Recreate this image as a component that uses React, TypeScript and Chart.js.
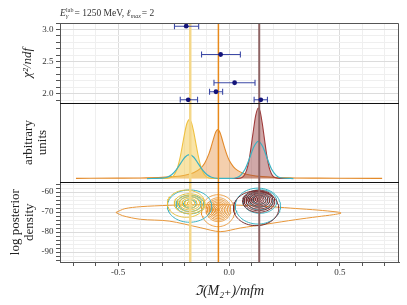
import React, { useEffect, useRef } from 'react';
import { Chart, registerables } from 'chart.js';

Chart.register(...registerables);

const FONT = '"Liberation Serif", "DejaVu Serif", serif';

// ---------- axis ticks ----------
const xTickValues = [-0.7, -0.6, -0.5, -0.4, -0.3, -0.2, -0.1, 0, 0.1, 0.2, 0.3, 0.4, 0.5, 0.6, 0.7];
const xLabelValues = [-0.5, 0, 0.5];
const chiTickValues = [1.9, 2.0, 2.1, 2.2, 2.3, 2.4, 2.5, 2.6, 2.7, 2.8, 2.9, 3.0, 3.1];
const chiLabelValues = [2.0, 2.5, 3.0];
const logTickValues = [-94, -92, -90, -88, -86, -84, -82, -80, -78, -76, -74, -72, -70, -68, -66, -64, -62, -60, -58, -56];
const logLabelValues = [-90, -80, -70, -60];

// ---------- reference lines ----------
const vLineX = [-0.175, -0.048, 0.136];
const vLineColors = ['#f4d789', '#e8891a', '#8e6464'];
const vLineWidths = [2.5, 1.5, 2];

// ---------- top panel: chi2/ndf with x errors ----------
const fitCenterX = [-0.193, -0.038, 0.025, -0.059, -0.184, 0.143];
const fitChi2 = [3.05, 2.61, 2.17, 2.03, 1.905, 1.905];
const fitLo = [-0.246, -0.124, -0.068, -0.088, -0.220, 0.113];
const fitHi = [-0.137, 0.051, 0.117, -0.029, -0.142, 0.173];

// ---------- middle panel: densities ----------
const yellowX = [-0.31, -0.28, -0.26, -0.25, -0.24, -0.23, -0.22, -0.21, -0.20, -0.19, -0.179, -0.17, -0.16, -0.15, -0.14, -0.13, -0.12, -0.11, -0.10, -0.08, -0.05];
const yellowY = [0.000, 0.002, 0.016, 0.039, 0.086, 0.165, 0.285, 0.440, 0.600, 0.725, 0.777, 0.740, 0.625, 0.470, 0.315, 0.188, 0.100, 0.046, 0.019, 0.002, 0.000];

const orangeX = [-0.69, -0.5, -0.4, -0.3, -0.25, -0.2, -0.16, -0.13, -0.11, -0.09, -0.08, -0.07, -0.06, -0.051, -0.04, -0.03, -0.02, -0.01, 0.0, 0.02, 0.04, 0.07, 0.1, 0.15, 0.2, 0.3, 0.4, 0.5, 0.69];
const orangeY = [0.002, 0.005, 0.008, 0.016, 0.025, 0.043, 0.077, 0.131, 0.202, 0.331, 0.423, 0.526, 0.614, 0.645, 0.600, 0.505, 0.403, 0.315, 0.245, 0.155, 0.104, 0.064, 0.043, 0.025, 0.016, 0.008, 0.005, 0.003, 0.002];

const brownX = [0.01, 0.05, 0.06, 0.07, 0.08, 0.09, 0.10, 0.11, 0.12, 0.132, 0.14, 0.15, 0.16, 0.17, 0.18, 0.19, 0.20, 0.21, 0.23, 0.27];
const brownY = [0.000, 0.006, 0.017, 0.050, 0.117, 0.240, 0.430, 0.640, 0.830, 0.930, 0.885, 0.720, 0.510, 0.305, 0.155, 0.070, 0.026, 0.009, 0.001, 0.000];

const tealX = [-0.37, -0.30, -0.279, -0.259, -0.239, -0.219, -0.199, -0.179, -0.159, -0.139, -0.119, -0.099, -0.079, -0.05, 0.0, 0.012, 0.032, 0.052, 0.072, 0.092, 0.112, 0.132, 0.152, 0.172, 0.192, 0.212, 0.232, 0.29];
const tealY = [0.000, 0.005, 0.017, 0.049, 0.110, 0.197, 0.280, 0.314, 0.280, 0.197, 0.110, 0.049, 0.017, 0.003, 0.002, 0.002, 0.010, 0.042, 0.122, 0.264, 0.420, 0.490, 0.420, 0.264, 0.122, 0.042, 0.010, 0.000];

// ---------- bottom panel: posterior contours (ring centres / radii) ----------
const yellowRingCx = [-0.178, -0.178, -0.178, -0.178, -0.178, -0.179, -0.193];
const yellowRingCy = [-65.6, -65.6, -65.6, -65.6, -65.7, -65.8, -65.8];
const yellowRingRx = [0.011, 0.023, 0.034, 0.045, 0.056, 0.068, 0.085];
const yellowRingRy = [0.85, 1.65, 2.5, 3.3, 4.1, 5.0, 6.8];

const tealLeftCx = [-0.176, -0.176, -0.176, -0.178];
const tealLeftCy = [-65.9, -66.0, -66.2, -67.0];
const tealLeftRx = [0.028, 0.050, 0.063, 0.100];
const tealLeftRy = [2.1, 3.7, 4.7, 8.1];

const orangeRingCx = [-0.048, -0.048, -0.048, -0.048, -0.048, -0.048, -0.048, -0.048, -0.050];
const orangeRingCy = [-68.8, -68.8, -68.8, -68.8, -68.8, -68.8, -68.8, -68.8, -69.3];
const orangeRingRx = [0.007, 0.014, 0.021, 0.028, 0.035, 0.042, 0.049, 0.056, 0.075];
const orangeRingRy = [0.75, 1.5, 2.25, 3.0, 3.75, 4.5, 5.25, 6.0, 8.0];

const orangeOuterX = [-0.51, -0.47, -0.40, -0.27, -0.20, -0.10, 0.0, 0.10, 0.20, 0.30, 0.40, 0.49, 0.505, 0.47, 0.40, 0.30, 0.17, 0.05, -0.04, -0.13, -0.27, -0.40, -0.48, -0.51];
const orangeOuterY = [-70.2, -68.3, -67.3, -66.6, -66.4, -66.3, -66.4, -66.8, -67.4, -68.2, -69.0, -70.0, -70.5, -71.3, -72.3, -73.8, -76.0, -78.0, -79.8, -77.8, -74.5, -73.6, -71.8, -70.2];

const brownRingCx = [0.134, 0.134, 0.134, 0.134, 0.134, 0.134, 0.134, 0.134, 0.134, 0.122];
const brownRingCy = [-63.6, -63.6, -63.7, -63.8, -63.9, -64.0, -64.2, -64.4, -64.6, -68.1];
const brownRingRx = [0.008, 0.016, 0.024, 0.033, 0.041, 0.049, 0.057, 0.065, 0.072, 0.102];
const brownRingRy = [0.6, 1.2, 1.85, 2.45, 3.05, 3.65, 4.3, 4.9, 5.5, 8.7];

const tealRightCx = [0.137, 0.137, 0.138, 0.139, 0.130];
const tealRightCy = [-63.8, -64.0, -64.3, -64.7, -67.0];
const tealRightRx = [0.030, 0.045, 0.060, 0.076, 0.102];
const tealRightRy = [2.2, 3.4, 4.6, 5.9, 9.0];

// ---------- helpers ----------
const GAP = { x: NaN, y: NaN };
const isIn = (arr: number[], v: any) => typeof v === 'number' && arr.some((a) => Math.abs(a - v) < 1e-6);
const zip = (xs: number[], ys: number[]) => xs.map((x, i) => ({ x, y: ys[i] }));

function rings(cx: number[], cy: number[], rx: number[], ry: number[]) {
  const pts: any[] = [];
  const n = 72;
  for (let i = 0; i < rx.length; i++) {
    for (let k = 0; k <= n; k++) {
      const t = (k / n) * Math.PI * 2;
      pts.push({ x: cx[i] + rx[i] * Math.cos(t), y: cy[i] + ry[i] * Math.sin(t) });
    }
    pts.push(GAP);
  }
  return pts;
}

function errorBars() {
  const pts: any[] = [];
  fitCenterX.forEach((_, i) => {
    pts.push({ x: fitLo[i], y: fitChi2[i] }, { x: fitHi[i], y: fitChi2[i] }, GAP);
  });
  return pts;
}

const vLinePlugin = {
  id: 'vlines',
  beforeDatasetDraw(chart: any, args: any) {
    if (args.index !== 1) return;
    const { ctx, chartArea } = chart;
    const xs = chart.scales.x;
    ctx.save();
    vLineX.forEach((v, i) => {
      const px = xs.getPixelForValue(v);
      ctx.strokeStyle = vLineColors[i];
      ctx.lineWidth = vLineWidths[i];
      ctx.beginPath();
      ctx.moveTo(px, chartArea.top);
      ctx.lineTo(px, chartArea.bottom);
      ctx.stroke();
    });
    ctx.restore();
  },
};

const framePlugin = {
  id: 'frame',
  afterDatasetsDraw(chart: any) {
    const { ctx, chartArea } = chart;
    ctx.save();
    ctx.strokeStyle = '#555';
    ctx.lineWidth = 1;
    ctx.beginPath();
    ctx.moveTo(chartArea.left, chartArea.top + 0.5);
    ctx.lineTo(chartArea.right - 0.5, chartArea.top + 0.5);
    ctx.lineTo(chartArea.right - 0.5, chartArea.bottom);
    ctx.stroke();
    ctx.strokeStyle = '#111';
    ctx.lineWidth = 1.2;
    ['yMid', 'yBot'].forEach((id) => {
      const y = Math.round(chart.scales[id].top) + 0.5;
      ctx.beginPath();
      ctx.moveTo(chartArea.left, y);
      ctx.lineTo(chartArea.right, y);
      ctx.stroke();
    });
    ctx.restore();
  },
};

const headerPlugin = {
  id: 'header',
  afterDraw(chart: any) {
    const { ctx, chartArea } = chart;
    let x = chartArea.left;
    const y = 16;
    ctx.save();
    ctx.fillStyle = '#333';
    ctx.textBaseline = 'alphabetic';
    ctx.textAlign = 'left';
    ctx.font = `italic 9.5px ${FONT}`;
    ctx.fillText('E', x, y);
    x += ctx.measureText('E').width + 0.3;
    ctx.font = `6px ${FONT}`;
    ctx.fillText('lab', x, y - 4.5);
    const wl = ctx.measureText('lab').width;
    ctx.font = `italic 6px ${FONT}`;
    ctx.fillText('γ', x, y + 2);
    x += wl + 1;
    ctx.font = `9.5px ${FONT}`;
    const s1 = '= 1250 MeV, ';
    ctx.fillText(s1, x, y);
    x += ctx.measureText(s1).width;
    ctx.font = `italic 9.5px ${FONT}`;
    ctx.fillText('ℓ', x, y);
    x += ctx.measureText('ℓ').width + 0.3;
    ctx.font = `italic 6px ${FONT}`;
    ctx.fillText('max', x, y + 2);
    x += ctx.measureText('max').width + 1;
    ctx.font = `9.5px ${FONT}`;
    ctx.fillText('= 2', x, y);
    ctx.restore();
  },
};

const tickFont = { family: FONT, size: 9 };
const titleFont = { family: FONT, size: 13, lineHeight: 1.12 };

export default function App() {
  const ref = useRef<HTMLCanvasElement>(null);

  useEffect(() => {
    Chart.defaults.font.family = FONT;
    const lineDs = (data: any[], color: string, axis: string, width = 1, extra: any = {}) => ({
      data,
      yAxisID: axis,
      showLine: true,
      borderColor: color,
      borderWidth: width,
      pointRadius: 0,
      fill: false,
      ...extra,
    });

    const datasets: any[] = [
      {
        data: zip(fitCenterX, fitChi2),
        yAxisID: 'yTop',
        pointRadius: 2.4,
        pointBackgroundColor: '#14147a',
        pointBorderColor: '#14147a',
        pointBorderWidth: 0,
        showLine: false,
      },
      lineDs(errorBars(), '#3d4aa6', 'yTop', 1.1, {
        pointStyle: 'line',
        pointRotation: 90,
        pointRadius: 3,
        pointBorderColor: '#3d4aa6',
        pointBorderWidth: 1.1,
      }),
      lineDs(zip(tealX, tealY), '#3bb2c2', 'yMid', 1.2, { cubicInterpolationMode: 'monotone' }),
      lineDs(zip(brownX, brownY), '#a03c3c', 'yMid', 1.1, {
        cubicInterpolationMode: 'monotone',
        fill: 'origin',
        backgroundColor: 'rgba(150,62,62,0.45)',
      }),
      lineDs(zip(yellowX, yellowY), '#efc142', 'yMid', 1.1, {
        cubicInterpolationMode: 'monotone',
        fill: 'origin',
        backgroundColor: 'rgba(244,202,80,0.5)',
      }),
      lineDs(zip(orangeX, orangeY), '#e38a2a', 'yMid', 1.1, {
        cubicInterpolationMode: 'monotone',
        fill: 'origin',
        backgroundColor: 'rgba(228,140,60,0.42)',
      }),
      lineDs(rings(brownRingCx, brownRingCy, brownRingRx, brownRingRy), '#7a2e30', 'yBot', 1),
      lineDs(rings(tealRightCx, tealRightCy, tealRightRx, tealRightRy), '#3bb2c2', 'yBot', 1),
      lineDs(rings(yellowRingCx, yellowRingCy, yellowRingRx, yellowRingRy), '#e6bf3e', 'yBot', 1),
      lineDs(rings(tealLeftCx, tealLeftCy, tealLeftRx, tealLeftRy), '#3bb2c2', 'yBot', 1),
      lineDs(rings(orangeRingCx, orangeRingCy, orangeRingRx, orangeRingRy), '#e8973a', 'yBot', 0.9),
      lineDs(zip(orangeOuterX, orangeOuterY), '#e8973a', 'yBot', 1, { tension: 0.3 }),
    ];

    const gridColor = (labels: number[]) => (c: any) =>
      isIn(labels, c.tick && c.tick.value) ? '#dcdcdc' : '#efefef';

    const chart = new Chart(ref.current as HTMLCanvasElement, {
      type: 'scatter',
      data: { datasets },
      plugins: [vLinePlugin, framePlugin, headerPlugin],
      options: {
        responsive: false,
        animation: false,
        devicePixelRatio: 1,
        layout: { padding: { top: 23, right: 8, left: 0, bottom: 0 } },
        plugins: { legend: { display: false }, tooltip: { enabled: false }, title: { display: false } },
        scales: {
          x: {
            type: 'linear',
            min: -0.762,
            max: 0.766,
            afterBuildTicks: (s: any) => {
              s.ticks = xTickValues.map((v) => ({ value: v }));
            },
            afterFit: (s: any) => {
              s.height = 43;
            },
            ticks: {
              autoSkip: false,
              maxRotation: 0,
              padding: 1,
              color: '#333',
              font: tickFont,
              callback: (v: any) => (isIn(xLabelValues, v) ? (Math.abs(v) < 1e-9 ? '0.0' : Number(v).toFixed(1)) : ''),
            },
            grid: { color: gridColor(xLabelValues), tickColor: '#555', tickLength: 4 },
            border: { color: '#555' },
            title: {
              display: true,
              text: 'ℑ(M₂₊)/mfm',
              color: '#222',
              font: { family: FONT, size: 14, style: 'italic' },
              padding: { top: 0, bottom: 5 },
            },
          },
          yTop: {
            type: 'linear',
            position: 'left',
            stack: 'panels',
            stackWeight: 1,
            weight: 3,
            min: 1.86,
            max: 3.1,
            afterBuildTicks: (s: any) => {
              s.ticks = chiTickValues.map((v) => ({ value: v }));
            },
            afterFit: (s: any) => {
              s.width = 60;
            },
            ticks: {
              autoSkip: false,
              padding: 2.5,
              color: '#333',
              font: tickFont,
              callback: (v: any) => (isIn(chiLabelValues, v) ? Number(v).toFixed(1) : ''),
            },
            grid: { color: gridColor(chiLabelValues), tickColor: '#555', tickLength: 4 },
            border: { color: '#555' },
            title: {
              display: true,
              text: 'χ²/ndf',
              color: '#222',
              font: { ...titleFont, style: 'italic' },
              padding: { top: 20, bottom: 0 },
            },
          },
          yMid: {
            type: 'linear',
            position: 'left',
            stack: 'panels',
            stackWeight: 1,
            weight: 2,
            min: -0.05,
            max: 1.0,
            afterFit: (s: any) => {
              s.width = 60;
            },
            ticks: { display: false },
            grid: { display: false },
            border: { display: true, color: '#555' },
            title: {
              display: true,
              text: ['arbitrary', 'units'],
              color: '#222',
              font: titleFont,
              padding: { top: 21, bottom: 0 },
            },
          },
          yBot: {
            type: 'linear',
            position: 'left',
            stack: 'panels',
            stackWeight: 1,
            weight: 1,
            min: -95,
            max: -55.1,
            afterBuildTicks: (s: any) => {
              s.ticks = logTickValues.map((v) => ({ value: v }));
            },
            afterFit: (s: any) => {
              s.width = 60;
            },
            ticks: {
              autoSkip: false,
              padding: 2.5,
              color: '#333',
              font: tickFont,
              callback: (v: any) => (isIn(logLabelValues, v) ? String(v) : ''),
            },
            grid: { color: gridColor(logLabelValues), tickColor: '#555', tickLength: 4 },
            border: { color: '#555' },
            title: {
              display: true,
              text: ['log posterior', 'density'],
              color: '#222',
              font: titleFont,
              padding: { top: 8, bottom: 0 },
            },
          },
        },
      } as any,
    });
    return () => chart.destroy();
  }, []);

  return (
    <div style={{ position: 'absolute', left: 0, top: 0, width: 407, height: 305, background: '#fff' }}>
      <canvas ref={ref} width={407} height={305} style={{ display: 'block' }} />
    </div>
  );
}
